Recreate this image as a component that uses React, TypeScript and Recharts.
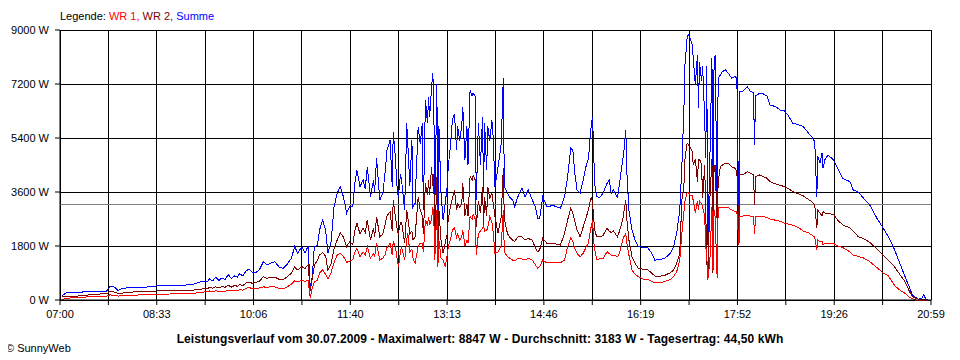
import React from "react";
import {
  LineChart,
  Line,
  XAxis,
  YAxis,
  CartesianGrid,
  ReferenceLine,
} from "recharts";

// minutes since midnight
const times = [
  422, 427, 436, 445, 452, 459, 465, 468, 472, 476, 480, 487, 497, 507, 513, 526, 538, 548, 555, 562,
  564, 567, 570, 573, 576, 579, 582, 585, 588, 591, 593, 596, 599, 602, 605, 608, 612, 616, 619, 623,
  627, 631, 635, 639, 643, 646, 649, 653, 656, 659, 661, 663, 665, 668, 670, 673, 676, 678, 681, 684,
  687, 690, 693, 695, 696, 699, 702, 704, 706, 709, 712, 714, 716, 719, 722, 723, 725, 728, 731, 733,
  735, 738, 740, 741, 743, 745, 746, 748, 749, 752, 754, 755, 757, 759, 760, 762, 765, 767, 769, 770,
  772, 774, 775, 776, 778, 779, 780, 781, 783, 784, 785, 787, 789, 791, 793, 794, 796, 798, 800, 802,
  803, 805, 807, 808, 810, 812, 813, 815, 817, 818, 820, 821, 823, 825, 827, 828, 829, 831, 832, 834,
  836, 837, 839, 842, 845, 847, 848, 851, 853, 856, 858, 861, 865, 868, 871, 875, 878, 880, 882, 885,
  889, 895, 902, 906, 909, 912, 914, 916, 918, 921, 924, 927, 929, 931, 932, 933, 934, 935, 937, 940,
  943, 947, 949, 951, 953, 957, 959, 962, 963, 965, 966, 968, 971, 974, 977, 982, 986, 990, 993, 998,
  1003, 1008, 1011, 1014, 1017, 1019, 1021, 1022, 1024, 1025, 1027, 1029, 1030, 1032, 1034, 1035, 1036, 1038, 1039, 1041,
  1042, 1043, 1044, 1046, 1048, 1049, 1050, 1051, 1053, 1054, 1056, 1058, 1061, 1064, 1067, 1070, 1072, 1074, 1075, 1078,
  1082, 1085, 1088, 1089, 1090, 1094, 1097, 1101, 1104, 1109, 1114, 1118, 1121, 1126, 1131, 1136, 1141, 1144, 1147, 1149,
  1150, 1152, 1154, 1155, 1157, 1160, 1165, 1169, 1174, 1181, 1184, 1189, 1194, 1200, 1207, 1213, 1218, 1224, 1229, 1234,
  1238, 1241, 1244, 1247, 1250, 1252, 1254, 1256,
];

const summe = [
  150, 260, 260, 270, 280, 300, 300, 450, 440, 320, 380, 420, 420, 440, 470, 480, 490, 520, 600, 620,
  700, 640, 760, 650, 740, 680, 850, 720, 800, 760, 880, 800, 960, 1030, 930, 900, 1000, 1280, 1170, 1230,
  1280, 1100, 1050, 1200, 1400, 1780, 1560, 1780, 1560, 1800, 400, 780, 1780, 1820, 2330, 2670, 2300, 1560, 1900, 3110,
  3560, 3780, 3440, 3110, 2890, 3110, 3100, 3900, 4330, 3780, 4000, 3700, 4440, 3440, 4000, 3600, 4720, 3330, 3560, 4200,
  5000, 5330, 3780, 5610, 4780, 3560, 3440, 4200, 4000, 3000, 5890, 5220, 3800, 5330, 3100, 3220, 5780, 5200, 5890, 3000,
  6670, 5900, 6780, 6100, 7110, 7560, 6900, 3000, 7200, 2220, 5800, 3560, 2670, 3200, 3800, 4440, 5110, 6000, 6200, 5000,
  5800, 5300, 5800, 6440, 4670, 5800, 4500, 7000, 6800, 6900, 6780, 3330, 5900, 4500, 6100, 3560, 5900, 4330, 5800, 5300,
  6000, 5600, 3780, 4440, 5200, 7390, 3780, 3560, 3440, 3330, 3110, 3440, 3720, 3440, 3670, 3330, 3110, 2720, 2720, 3440,
  3110, 3150, 3060, 3440, 4110, 5060, 5000, 4200, 3670, 3560, 4000, 4500, 4700, 5560, 5900, 6110, 5000, 3890, 3440, 3420,
  3560, 3890, 4000, 3560, 3670, 3420, 3890, 4670, 4900, 5670, 4300, 3000, 2330, 2000, 1780, 1750, 1750, 1560, 1330, 1350,
  1400, 1560, 1780, 2220, 3000, 4440, 6390, 7830, 8720, 8847, 8720, 8500, 8060, 7170, 8170, 6390, 7940, 7300, 7800, 6060,
  4720, 7800, 1830, 4720, 8060, 2000, 7700, 8170, 3300, 7390, 7500, 7610, 7670, 7550, 7390, 7450, 7390, 2400, 6940, 6960,
  7110, 6960, 6900, 5170, 6800, 6890, 6880, 6800, 6500, 6450, 6330, 6300, 6170, 5890, 5850, 5780, 5560, 5450, 5280, 3440,
  4800, 4560, 4900, 4400, 4700, 4830, 4670, 4390, 4060, 3940, 3670, 3600, 3390, 3170, 2720, 2390, 2110, 1670, 1220, 780,
  440, 170, 90, 30, 40, 170, 30, 0,
];

const wr2 = [
  110, 120, 130, 160, 190, 200, 210, 280, 270, 220, 230, 260, 280, 290, 300, 310, 320, 330, 360, 380,
  420, 390, 440, 400, 450, 420, 500, 430, 480, 460, 520, 480, 560, 600, 560, 580, 620, 780, 720, 750,
  760, 690, 670, 780, 900, 1100, 1000, 1110, 1050, 1170, 300, 700, 1150, 1330, 1500, 1580, 1450, 1000, 1200, 1700,
  2000, 2240, 2100, 1900, 1780, 1940, 1850, 2300, 2560, 2200, 2400, 2250, 2670, 2000, 2400, 2100, 2780, 2110, 2200, 2500,
  2800, 2940, 2300, 3330, 2780, 2300, 2220, 2600, 2600, 1890, 3000, 2780, 2200, 2300, 2000, 2100, 3440, 3000, 2800, 2200,
  3890, 3500, 4000, 3500, 4440, 3800, 4200, 1780, 4100, 1560, 3000, 2000, 1560, 1900, 2200, 2700, 3110, 3400, 3670, 3000,
  3200, 3100, 3200, 3890, 2800, 3200, 2800, 4110, 4000, 4150, 4000, 2440, 3300, 2900, 3780, 2500, 3440, 2800, 3780, 3400,
  3560, 3300, 2780, 2220, 2780, 4390, 2700, 2220, 2100, 2000, 1950, 2100, 2110, 2000, 2050, 2000, 1720, 1610, 1670, 2060,
  1890, 1890, 1830, 2220, 2670, 3060, 2900, 2600, 2330, 2110, 2440, 2780, 3000, 3330, 3440, 3200, 2800, 2330, 2110, 2100,
  2150, 2390, 2300, 2250, 2300, 2110, 2300, 2670, 2900, 3330, 2700, 2000, 1440, 1220, 1060, 1020, 1020, 890, 800, 790,
  830, 910, 1000, 1220, 1560, 3330, 3830, 4700, 5220, 5200, 5100, 4940, 4500, 4700, 3940, 4700, 4700, 4500, 3390, 4500,
  3000, 1300, 720, 3390, 4700, 900, 4300, 4500, 2610, 3940, 4440, 4500, 4560, 4560, 4440, 4400, 4280, 2280, 4170, 4170,
  4280, 4220, 4170, 3170, 4110, 4170, 4120, 4060, 3940, 3870, 3820, 3780, 3720, 3620, 3540, 3470, 3350, 3280, 3170, 2390,
  3000, 2900, 2800, 2950, 2890, 2890, 2850, 2670, 2500, 2400, 2300, 2110, 2050, 1920, 1700, 1480, 1330, 1100, 850, 610,
  300, 120, 60, 30, 10, 10, 0, 0,
];

const wr1 = [
  20, 60, 80, 100, 110, 120, 130, 170, 160, 130, 140, 150, 170, 180, 190, 200, 210, 220, 250, 280,
  300, 270, 310, 280, 300, 290, 330, 300, 320, 310, 340, 330, 380, 420, 380, 400, 400, 440, 420, 440,
  440, 380, 370, 440, 530, 640, 600, 670, 620, 660, 70, 400, 600, 660, 900, 1000, 850, 700, 900, 1250,
  1500, 1550, 1450, 1330, 1250, 1300, 1350, 1600, 1720, 1450, 1600, 1500, 1780, 1400, 1550, 1450, 1900, 1330, 1400, 1500,
  1750, 1890, 1500, 1950, 1780, 1330, 1110, 1600, 1780, 1330, 2000, 2220, 1600, 1700, 1400, 1220, 1780, 1900, 1900, 1600,
  2670, 2500, 2780, 2500, 2700, 3110, 2900, 1330, 3000, 1110, 2000, 1400, 1330, 1110, 1500, 1780, 2000, 2330, 2400, 2100,
  2200, 2000, 2100, 2330, 1800, 2000, 1900, 2780, 2700, 2850, 2700, 1500, 2200, 2300, 2400, 2500, 2300, 2330, 2400, 2780,
  2600, 2330, 1560, 1600, 1800, 3000, 1600, 1440, 1400, 1330, 1300, 1400, 1370, 1330, 1400, 1330, 1170, 1060, 1110, 1330,
  1240, 1240, 1240, 1330, 1780, 2060, 1950, 1700, 1560, 1440, 1560, 1780, 1900, 2330, 2500, 2670, 2000, 1700, 1360, 1370,
  1380, 1610, 1550, 1500, 1500, 1440, 1560, 2000, 2100, 2220, 1900, 1500, 1000, 850, 780, 690, 690, 620, 580, 580,
  620, 690, 780, 940, 1330, 2220, 2940, 3300, 3560, 3600, 3500, 3500, 3300, 2900, 3300, 3000, 3300, 3200, 3100, 2800,
  1800, 1500, 670, 1300, 3100, 1000, 3000, 2800, 730, 3100, 3080, 3080, 3080, 3070, 3000, 2950, 2940, 1830, 2800, 2800,
  2810, 2800, 2800, 2200, 2780, 2780, 2780, 2750, 2700, 2660, 2620, 2560, 2540, 2490, 2420, 2300, 2240, 2170, 2100, 1670,
  2000, 1930, 1950, 1850, 1900, 1890, 1890, 1800, 1750, 1600, 1500, 1450, 1400, 1280, 1080, 900, 800, 480, 330, 220,
  100, 40, 0, 0, 0, 0, 0, 0,
];

const durchschnitt = 3183;

const yTicks = [0, 1800, 3600, 5400, 7200, 9000];
const tickLabels = [
  "07:00", "", "08:33", "", "10:06", "", "11:40", "", "13:13", "",
  "14:46", "", "16:19", "", "17:52", "", "19:26", "", "20:59",
];

const START = 420;
const END = 1259;
const xTicks = tickLabels.map((_, i) => START + (i * (END - START)) / (tickLabels.length - 1));

const data = times.map((t, i) => ({
  t,
  wr1: wr1[i],
  wr2: wr2[i],
  summe: summe[i],
}));

const FONT = '"Liberation Sans", Arial, sans-serif';
const tickStyle = { fontSize: 11, fill: "#000", fontFamily: FONT };

export default function App() {
  return (
    <div style={{ position: "relative", width: 944, height: 352, fontFamily: FONT, color: "#000" }}>
      <div style={{ position: "absolute", left: 52, top: 1, fontSize: 11, lineHeight: "14px" }}>
        Legende: <span style={{ color: "#ff0000" }}>WR 1,</span>{" "}
        <span style={{ color: "#800000" }}>WR 2,</span>{" "}
        <span style={{ color: "#0000ff" }}>Summe</span>
      </div>
      <LineChart
        width={944}
        height={312}
        data={data}
        margin={{ top: 22, right: 21, left: 0, bottom: 0 }}
      >
        <CartesianGrid stroke="#000" strokeWidth={1} shapeRendering="crispEdges" />
        <XAxis
          dataKey="t"
          type="number"
          domain={[START, END]}
          ticks={xTicks}
          interval={0}
          tickFormatter={(_v, i) => tickLabels[i]}
          tick={tickStyle}
          tickSize={5}
          tickMargin={5}
          height={20}
          stroke="#000"
        />
        <YAxis
          domain={[0, 9000]}
          ticks={yTicks}
          interval={0}
          tickFormatter={(v) => `${v} W`}
          tick={tickStyle}
          tickSize={5}
          tickMargin={6}
          width={52}
          stroke="#000"
        />
        <ReferenceLine y={durchschnitt} stroke="#808080" strokeWidth={1} shapeRendering="crispEdges" />
        <Line
          type="linear"
          dataKey="summe"
          stroke="#0000ff"
          strokeWidth={1}
          dot={false}
          shapeRendering="crispEdges"
          isAnimationActive={false}
        />
        <Line
          type="linear"
          dataKey="wr2"
          stroke="#800000"
          strokeWidth={1}
          dot={false}
          shapeRendering="crispEdges"
          isAnimationActive={false}
        />
        <Line
          type="linear"
          dataKey="wr1"
          stroke="#ff0000"
          strokeWidth={1}
          dot={false}
          shapeRendering="crispEdges"
          isAnimationActive={false}
        />
      </LineChart>
      <div
        style={{
          position: "absolute",
          left: 0,
          top: 325,
          width: 944,
          textAlign: "center",
          fontSize: 12,
          fontWeight: "bold",
          letterSpacing: 0.1,
          lineHeight: "13px",
        }}
      >
        Leistungsverlauf vom 30.07.2009 - Maximalwert: 8847 W - Durchschnitt: 3183 W - Tagesertrag: 44,50 kWh
      </div>
      <div style={{ position: "absolute", left: -2, top: 334, fontSize: 11, lineHeight: "12px" }}>
        © SunnyWeb
      </div>
    </div>
  );
}
